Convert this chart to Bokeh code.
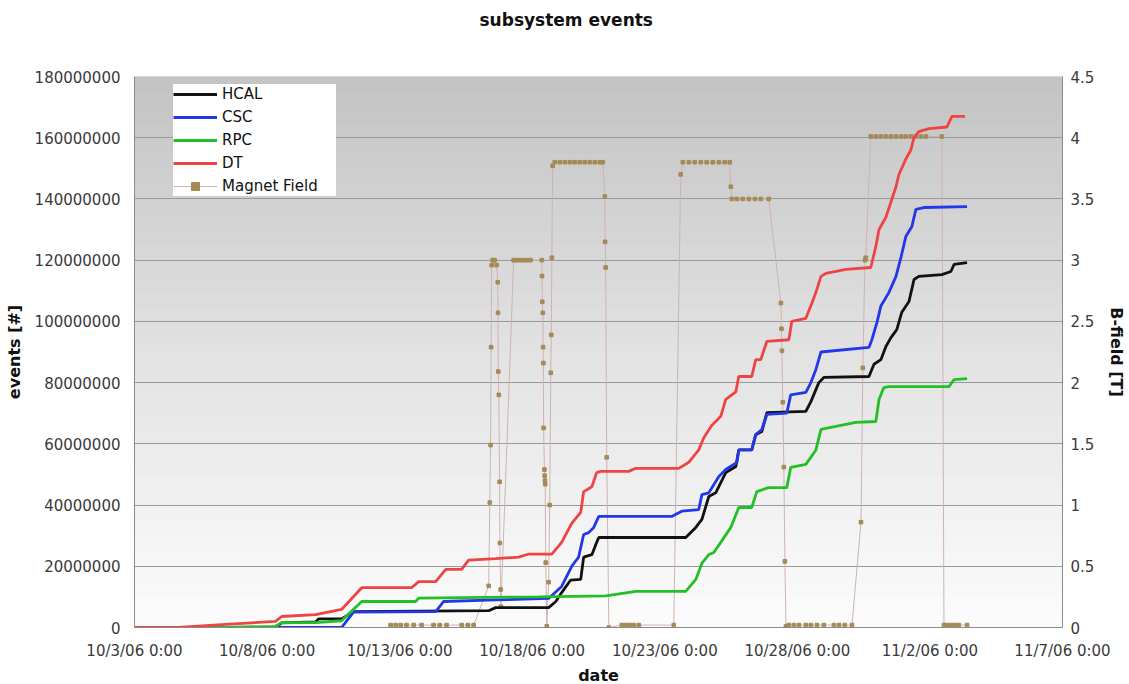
from bokeh.plotting import figure
from bokeh.models import (Range1d, LinearAxis, FixedTicker, NumeralTickFormatter,
                          Legend, LegendItem, BoxAnnotation)
from bokeh.embed import file_html
from bokeh.resources import INLINE

# x values are days since 10/3/06 0:00
tick_days = [0, 5, 10, 15, 20, 25, 30, 35]
tick_labels = ["10/3/06 0:00", "10/8/06 0:00", "10/13/06 0:00", "10/18/06 0:00",
               "10/23/06 0:00", "10/28/06 0:00", "11/2/06 0:00", "11/7/06 0:00"]
events_ticks = [0, 20e6, 40e6, 60e6, 80e6, 100e6, 120e6, 140e6, 160e6, 180e6]
bfield_ticks = [0, 0.5, 1, 1.5, 2, 2.5, 3, 3.5, 4, 4.5]

# events in millions
dt_x = [0, 1.66, 3.43, 5.32, 5.55, 6.83, 7.81, 8.57, 10.45, 10.72, 11.36, 11.74, 12.34, 12.60,
        13.62, 14.49, 14.87, 15.74, 16.11, 16.49, 16.83, 16.94, 17.25, 17.43, 17.58, 18.64,
        18.91, 20.53, 20.91, 21.28, 21.47, 21.77, 22.11, 22.30, 22.68, 22.79, 23.28, 23.43,
        23.62, 23.85, 24.68, 24.79, 25.32, 25.55, 25.70, 25.89, 26.08, 26.83, 27.77, 27.96,
        28.08, 28.34, 28.53, 28.72, 28.83, 29.09, 29.28, 29.40, 29.58, 29.96, 30.64, 30.83, 31.32]
dt_y = [0, 0, 1.0, 2.0, 3.6, 4.2, 5.9, 13.0, 13.0, 15.0, 15.0, 19.0, 19.0, 22.0,
        22.5, 23.0, 24.0, 24.0, 27.8, 34.0, 37.6, 44.4, 46.0, 50.6, 51.0, 51.0,
        52.0, 52.0, 54.0, 58.0, 62.0, 66.0, 69.0, 74.5, 77.0, 82.0, 82.0, 87.5,
        87.5, 93.5, 94.0, 100.0, 101.0, 106.0, 109.5, 114.7, 115.7, 117.0, 117.6, 124.5,
        130.0, 134.0, 139.0, 144.0, 148.0, 153.0, 156.0, 160.0, 162.0, 163.0, 163.5, 167.0, 167.0]

csc_x = [0, 7.81, 8.26, 11.36, 11.66, 13.62, 15.62, 16.11, 16.49, 16.75, 16.94, 17.13, 17.32,
         17.51, 20.26, 20.64, 21.28, 21.40, 21.66, 22.04, 22.30, 22.72, 22.79, 23.28, 23.43,
         23.66, 23.85, 24.60, 24.75, 25.32, 25.51, 25.70, 25.89, 27.70, 27.81, 28.0, 28.15,
         28.45, 28.72, 28.91, 29.09, 29.32, 29.47, 29.77, 31.40]
csc_y = [0, 0, 5.0, 5.2, 8.5, 9.0, 9.5, 13.4, 20.0, 23.0, 30.4, 31.0, 32.7,
         36.3, 36.3, 38.0, 38.5, 43.4, 44.0, 49.3, 51.6, 53.9, 58.0, 58.0, 63.0,
         64.7, 69.6, 70.0, 76.0, 76.8, 80.0, 84.3, 90.0, 91.5, 94.0, 99.6, 105.0,
         109.4, 114.7, 121.0, 127.7, 131.0, 136.6, 137.2, 137.5]

hcal_x = [0, 5.32, 5.55, 6.83, 6.94, 7.81, 8.26, 13.36, 13.62, 15.62, 15.89, 16.11, 16.45,
          16.83, 16.94, 17.25, 17.43, 17.51, 20.79, 21.17, 21.40, 21.66, 21.92, 22.30, 22.68,
          22.79, 23.28, 23.43, 23.66, 23.85, 25.32, 25.51, 25.81, 26.0, 27.70, 27.89, 28.15,
          28.34, 28.53, 28.75, 28.94, 29.21, 29.40, 29.58, 30.45, 30.79, 30.91, 31.40]
hcal_y = [0, 0, 1.5, 1.8, 2.8, 2.8, 5.2, 5.5, 6.5, 6.5, 8.5, 11.4, 15.5,
          15.7, 23.0, 23.8, 27.8, 29.4, 29.4, 32.7, 35.3, 42.8, 44.0, 50.6, 52.6,
          58.0, 58.0, 63.0, 64.0, 70.2, 70.6, 73.8, 80.0, 81.7, 82.0, 86.0, 87.5,
          91.8, 94.7, 97.3, 103.0, 106.5, 113.7, 114.7, 115.3, 116.3, 118.6, 119.2]

rpc_x = [0, 3.43, 5.32, 5.55, 6.83, 7.81, 8.57, 10.60, 10.72, 15.25, 17.77, 18.91, 20.79,
         21.17, 21.40, 21.66, 21.85, 22.11, 22.49, 22.79, 23.28, 23.47, 23.92, 24.60, 24.75,
         25.32, 25.70, 25.89, 26.45, 27.21, 27.96, 28.08, 28.26, 28.45, 30.72, 30.91, 31.40]
rpc_y = [0, 0, 0.4, 1.6, 1.6, 2.2, 8.5, 8.5, 9.6, 10.0, 10.3, 11.8, 11.8,
         15.7, 21.0, 23.8, 24.5, 27.8, 32.7, 39.2, 39.2, 44.4, 45.7, 45.7, 52.3,
         53.3, 58.0, 64.7, 65.7, 67.0, 67.3, 74.5, 78.4, 78.7, 78.7, 81.0, 81.3]

# magnet field in tesla
mag_x = [9.66, 9.85, 10.04, 10.26, 10.53, 10.83, 11.28, 11.51, 11.77, 12.34, 12.57, 12.79,
         13.36, 13.40, 13.43, 13.45, 13.47, 13.51, 13.55, 13.58, 13.66, 13.70, 13.71, 13.72,
         13.74, 13.77, 13.78, 13.81, 13.82,
         14.30, 14.38, 14.49, 14.60, 14.72, 14.83, 14.94,
         15.36, 15.37, 15.38, 15.40, 15.41, 15.42, 15.43, 15.46, 15.47, 15.48, 15.49, 15.51,
         15.55, 15.62, 15.66, 15.70, 15.72, 15.74, 15.77,
         15.85, 16.04, 16.23, 16.42, 16.60, 16.79, 16.98, 17.17, 17.36, 17.55, 17.66,
         17.74, 17.75, 17.77, 17.81, 17.89,
         18.38, 18.53, 18.68, 18.83, 19.02,
         20.34, 20.60, 20.68, 20.91, 21.13, 21.36, 21.58, 21.81, 22.04, 22.26, 22.45,
         22.49, 22.53, 22.72, 22.94, 23.17, 23.40, 23.62, 23.92,
         24.38, 24.40, 24.42, 24.45, 24.49, 24.53, 24.57,
         24.68, 24.87, 25.06, 25.32, 25.51, 25.74, 26.0, 26.38, 26.57, 26.79, 27.06,
         27.40, 27.47, 27.55, 27.58, 27.77,
         27.96, 28.15, 28.34, 28.53, 28.72, 28.91, 29.09, 29.28, 29.47, 29.66, 29.85,
         30.45, 30.53, 30.64, 30.79, 30.94, 31.09, 31.40]
mag_t = [0.02, 0.02, 0.02, 0.02, 0.02, 0.02, 0.02, 0.02, 0.02, 0.02, 0.02, 0.02,
         0.34, 1.02, 1.49, 2.29, 2.96, 3.0, 3.0, 3.0, 2.96, 2.82, 2.57, 2.09,
         1.9, 1.19, 0.69, 0.31, 0.17,
         3.0, 3.0, 3.0, 3.0, 3.0, 3.0, 3.0,
         3.0, 2.87, 2.66, 2.57, 2.29, 2.16, 1.63, 1.29, 1.24, 1.2, 1.17, 0.53,
         0.01, 0.37, 1.0, 2.08, 2.39, 3.02, 3.77,
         3.8, 3.8, 3.8, 3.8, 3.8, 3.8, 3.8, 3.8, 3.8, 3.8, 3.8,
         3.52, 3.15, 2.94, 1.39, 0.0,
         0.02, 0.02, 0.02, 0.02, 0.02,
         0.02, 3.7, 3.8, 3.8, 3.8, 3.8, 3.8, 3.8, 3.8, 3.8, 3.8,
         3.6, 3.5, 3.5, 3.5, 3.5, 3.5, 3.5, 3.5,
         2.65, 2.44, 2.26, 1.84, 1.31, 0.54, 0.01,
         0.02, 0.02, 0.02, 0.02, 0.02, 0.02, 0.02, 0.02, 0.02, 0.02, 0.02,
         0.86, 2.12, 3.0, 3.02, 4.01,
         4.01, 4.01, 4.01, 4.01, 4.01, 4.01, 4.01, 4.01, 4.01, 4.01, 4.01,
         4.01, 0.02, 0.02, 0.02, 0.02, 0.02, 0.02]

M = 1e6
FONT = "DejaVu Sans"

p = figure(frame_width=928, frame_height=551, output_backend="svg", toolbar_location=None,
           x_range=Range1d(0, 35), y_range=Range1d(0, 180e6),
           min_border_left=134, min_border_right=64, min_border_top=76, min_border_bottom=55,
           title="subsystem events\n\u00a0\n\u00a0")
p.outline_line_color = None
p.background_fill_color = "#fafafa"
p.border_fill_color = "white"

p.title.align = "left"
p.title.offset = 345
p.title.standoff = 14
p.title.text_font = FONT
p.title.text_font_size = "17px"
p.title.text_font_style = "bold"
p.title.text_color = "#111111"

# background gradient bands
nb = 36
for i in range(nb):
    t = (i + 0.5) / nb
    g = int(round(251 - 56 * t ** 1.15))
    col = "#%02x%02x%02x" % (g, g, g)
    p.add_layout(BoxAnnotation(bottom=180e6 * i / nb, top=180e6 * (i + 1) / nb,
                               fill_color=col, fill_alpha=1.0, line_color=col,
                               line_alpha=1.0, line_width=1, level="image"))

p.xgrid.visible = False
p.ygrid.ticker = FixedTicker(ticks=events_ticks)
p.ygrid.grid_line_color = "#9a9a9a"
p.ygrid.grid_line_width = 1

p.extra_y_ranges = {"bfield": Range1d(0, 4.5)}

# x axis
xa = p.xaxis[0]
xa.ticker = FixedTicker(ticks=tick_days)
xa.major_label_overrides = {d: lab for d, lab in zip(tick_days, tick_labels)}
xa.axis_label = "date"
# left axis
ya = p.yaxis[0]
ya.ticker = FixedTicker(ticks=events_ticks)
ya.formatter = NumeralTickFormatter(format="0")
ya.axis_label = "events [#]"
# right axis
ra = LinearAxis(y_range_name="bfield", axis_label="B-field [T]",
                ticker=FixedTicker(ticks=bfield_ticks))
ra.major_label_overrides = {0: "0", 1: "1", 2: "2", 3: "3", 4: "4"}
p.add_layout(ra, "right")

for ax in (xa, ya, ra):
    ax.axis_line_color = "#8a8a8a"
    ax.axis_line_width = 1
    ax.major_tick_line_color = None
    ax.minor_tick_line_color = None
    ax.major_tick_out = 0
    ax.major_tick_in = 0
    ax.minor_tick_out = 0
    ax.minor_tick_in = 0
    ax.major_label_text_font = FONT
    ax.major_label_text_font_size = "15px"
    ax.major_label_text_color = "#3a3a3a"
    ax.axis_label_text_font = FONT
    ax.axis_label_text_font_size = "16px"
    ax.axis_label_text_font_style = "bold"
    ax.axis_label_text_color = "#111111"
xa.major_label_standoff = 14
xa.axis_label_standoff = 3
ya.major_label_standoff = 14
ya.axis_label_standoff = 8
ra.major_label_standoff = 8
ra.axis_label_standoff = 10

# magnet field
mline = p.line(mag_x, mag_t, y_range_name="bfield", line_color="#cfb3b3", line_width=1)
mpts = p.scatter(mag_x, mag_t, y_range_name="bfield", marker="square", size=3.6,
                 fill_color="#a48a55", line_color="#a48a55")

r_h = p.line(hcal_x, [v * M for v in hcal_y], line_color="#111111", line_width=2.8)
r_c = p.line(csc_x, [v * M for v in csc_y], line_color="#2238e8", line_width=2.8)
r_r = p.line(rpc_x, [v * M for v in rpc_y], line_color="#22c025", line_width=2.8)
r_d = p.line(dt_x, [v * M for v in dt_y], line_color="#ee4444", line_width=2.8)

legend = Legend(items=[
    LegendItem(label="HCAL", renderers=[r_h]),
    LegendItem(label="CSC", renderers=[r_c]),
    LegendItem(label="RPC", renderers=[r_r]),
    LegendItem(label="DT", renderers=[r_d]),
    LegendItem(label="Magnet Field", renderers=[mline, mpts]),
], location=(39, 431))
legend.background_fill_color = "white"
legend.background_fill_alpha = 1.0
legend.border_line_color = None
legend.label_text_font = FONT
legend.label_text_font_size = "15px"
legend.label_text_color = "#111111"
legend.glyph_width = 44
legend.glyph_height = 20
legend.label_height = 20
legend.label_width = 114
legend.label_standoff = 5
legend.spacing = 3
legend.padding = 5
legend.margin = 0
p.add_layout(legend)

open("out.html", "w").write(file_html(p, INLINE))
